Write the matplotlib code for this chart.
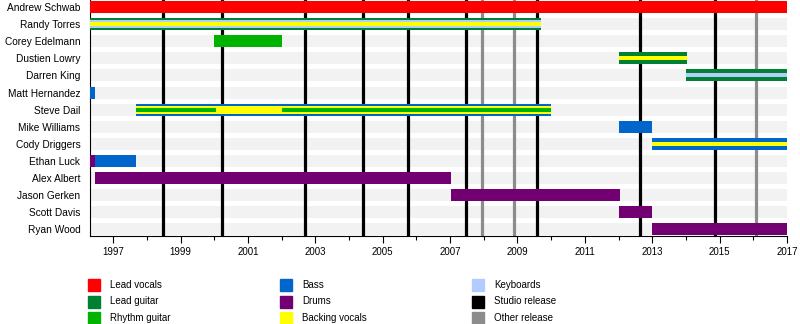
import matplotlib.pyplot as plt
from matplotlib.patches import Rectangle

plt.rcParams['font.family'] = ['Liberation Sans', 'DejaVu Sans']

# Band members, top to bottom
members = ['Andrew Schwab', 'Randy Torres', 'Corey Edelmann', 'Dustien Lowry',
           'Darren King', 'Matt Hernandez', 'Steve Dail', 'Mike Williams',
           'Cody Driggers', 'Ethan Luck', 'Alex Albert', 'Jason Gerken',
           'Scott Davis', 'Ryan Wood']

# Role colours
roles = {
    'Lead vocals': '#ff0000',
    'Lead guitar': '#008033',
    'Rhythm guitar': '#00b300',
    'Bass': '#0066cc',
    'Drums': '#730073',
    'Backing vocals': '#ffff00',
    'Keyboards': '#b3ccff',
}
studio_color = 'black'
other_color = '#8c8c8c'

start = 1996.31
end = 2017.0

# Periods: member, role, from, to, bar size
periods = [
    ('Andrew Schwab', 'Lead vocals', start, end, 'full'),
    ('Randy Torres', 'Lead guitar', start, 2009.69, 'full'),
    ('Randy Torres', 'Keyboards', start, 2009.69, 'mid'),
    ('Randy Torres', 'Backing vocals', start, 2009.69, 'thin'),
    ('Corey Edelmann', 'Rhythm guitar', 2000.0, 2002.0, 'full'),
    ('Dustien Lowry', 'Lead guitar', 2012.0, 2014.03, 'full'),
    ('Dustien Lowry', 'Backing vocals', 2012.0, 2014.03, 'thin'),
    ('Darren King', 'Lead guitar', 2014.0, end, 'full'),
    ('Darren King', 'Keyboards', 2014.0, end, 'thin'),
    ('Matt Hernandez', 'Bass', start, 1996.45, 'full'),
    ('Steve Dail', 'Bass', 1997.68, 2010.0, 'full'),
    ('Steve Dail', 'Backing vocals', 1997.68, 2010.0, 'mid'),
    ('Steve Dail', 'Rhythm guitar', 1997.68, 2000.04, 'thin'),
    ('Steve Dail', 'Rhythm guitar', 2002.0, 2010.0, 'thin'),
    ('Mike Williams', 'Bass', 2012.0, 2013.0, 'full'),
    ('Cody Driggers', 'Bass', 2013.0, end, 'full'),
    ('Cody Driggers', 'Backing vocals', 2013.0, end, 'thin'),
    ('Ethan Luck', 'Drums', start, 1996.45, 'full'),
    ('Ethan Luck', 'Bass', 1996.45, 1997.68, 'full'),
    ('Alex Albert', 'Drums', 1996.45, 2007.02, 'full'),
    ('Jason Gerken', 'Drums', 2007.02, 2012.03, 'full'),
    ('Scott Davis', 'Drums', 2012.0, 2013.0, 'full'),
    ('Ryan Wood', 'Drums', 2013.0, end, 'full'),
]

studio_releases = [1998.47, 2000.22, 2002.69, 2004.41, 2005.74, 2007.46,
                   2009.57, 2012.63, 2014.86]
other_releases = [2007.94, 2008.89, 2016.08]

heights = {'full': 0.70, 'mid': 0.47, 'thin': 0.23}

fig = plt.figure(figsize=(8, 3.24), dpi=100)
ax = fig.add_axes([90 / 800, 1 - 236 / 324, 697 / 800, 236 / 324])

n = len(members)
row = {m: i for i, m in enumerate(members)}

# grey background bands
for i in range(n):
    ax.barh(i, end - start, left=start, height=heights['full'],
            color='#f2f2f2', zorder=1)

for x in studio_releases:
    ax.axvline(x, color=studio_color, lw=2.3, zorder=2)
for x in other_releases:
    ax.axvline(x, color=other_color, lw=2.3, zorder=2)

for m, role, a, b, size in periods:
    ax.barh(row[m], b - a, left=a, height=heights[size],
            color=roles[role], zorder=3)

ax.set_xlim(start, end)
ax.set_ylim(n - 0.61, -0.41)
ax.set_yticks(range(n))
ax.set_yticklabels(members, fontsize=7.3)
ax.tick_params(axis='y', length=0, pad=7)
ax.set_xticks(range(1997, 2018, 2))
ax.set_xticks(range(1998, 2017, 2), minor=True)
ax.tick_params(axis='x', which='major', length=5, width=0.8, labelsize=7, pad=3)
ax.tick_params(axis='x', which='minor', length=3, width=0.8)
for s in ['top', 'right']:
    ax.spines[s].set_visible(False)
for s in ['left', 'bottom']:
    ax.spines[s].set_linewidth(0.8)

# legend, filled column by column
legend_items = [(k, roles[k]) for k in ['Lead vocals', 'Lead guitar', 'Rhythm guitar',
                                         'Bass', 'Drums', 'Backing vocals', 'Keyboards']]
legend_items += [('Studio release', studio_color), ('Other release', other_color)]
for k, (label, color) in enumerate(legend_items):
    col, r = divmod(k, 3)
    x0 = (88 + col * 192) / 800
    y0 = 1 - (285 + r * 16.5) / 324
    fig.patches.append(Rectangle((x0, y0 - 6 / 324), 12 / 800, 12 / 324,
                                 transform=fig.transFigure, color=color))
    fig.text(x0 + 22 / 800, y0, label, fontsize=7, va='center')

plt.savefig('out.png', dpi=100)
